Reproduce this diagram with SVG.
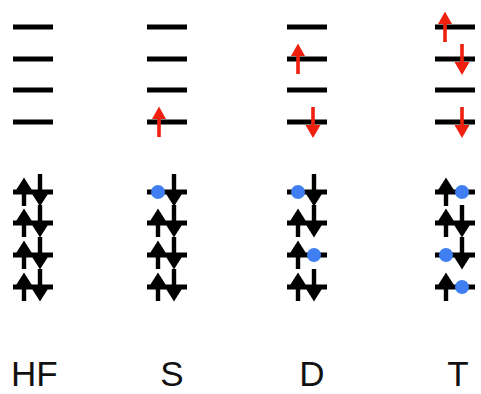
<svg xmlns="http://www.w3.org/2000/svg" xmlns:xlink="http://www.w3.org/1999/xlink" width="481" height="394" viewBox="0 0 481 394">
  <style>
    .level { stroke: #000; stroke-width: 5; }
    .hole { fill: #3f7ff2; }
    .label { font-family: "Liberation Sans", Arial, sans-serif; font-size: 35px; fill: #111; }
  </style>
  <defs>
    <!-- spin arrows, origin at the crossing with the level line -->
    <g id="up-black">
      <rect x="-2.2" y="-3" width="4.4" height="17" fill="#000"/>
      <polygon points="0,-14.5 8.5,-1 -8.5,-1" fill="#000"/>
    </g>
    <g id="down-black">
      <rect x="-2.2" y="-18" width="4.4" height="20" fill="#000"/>
      <polygon points="-8.5,1 8.5,1 0,14.5" fill="#000"/>
    </g>
    <g id="up-red">
      <rect x="-1.8" y="-5" width="3.6" height="20" fill="#f0200f"/>
      <polygon points="0,-15.5 7,-3 -7,-3" fill="#f0200f"/>
    </g>
    <g id="down-red">
      <rect x="-1.8" y="-15" width="3.6" height="20" fill="#f0200f"/>
      <polygon points="-7.5,3 7.5,3 0,16" fill="#f0200f"/>
    </g>
  </defs>
  <rect width="481" height="394" fill="#fff"/>

  <!-- Hartree-Fock reference -->
  <g id="col-hf">
    <line class="level" x1="13" y1="27" x2="53" y2="27"/>
    <line class="level" x1="13" y1="59" x2="53" y2="59"/>
    <line class="level" x1="13" y1="90" x2="53" y2="90"/>
    <line class="level" x1="13" y1="122" x2="53" y2="122"/>
    <line class="level" x1="13" y1="192" x2="53" y2="192"/>
    <line class="level" x1="13" y1="223" x2="53" y2="223"/>
    <line class="level" x1="13" y1="255" x2="53" y2="255"/>
    <line class="level" x1="13" y1="287" x2="53" y2="287"/>
    <use xlink:href="#up-black" x="24" y="192"/>
    <use xlink:href="#up-black" x="24" y="223"/>
    <use xlink:href="#up-black" x="24" y="255"/>
    <use xlink:href="#up-black" x="24" y="287"/>
    <use xlink:href="#down-black" x="40" y="192"/>
    <use xlink:href="#down-black" x="40" y="223"/>
    <use xlink:href="#down-black" x="40" y="255"/>
    <use xlink:href="#down-black" x="40" y="287"/>
    <text class="label" x="11" y="386">HF</text>
  </g>

  <!-- single excitation -->
  <g id="col-s">
    <line class="level" x1="147" y1="27" x2="187" y2="27"/>
    <line class="level" x1="147" y1="59" x2="187" y2="59"/>
    <line class="level" x1="147" y1="90" x2="187" y2="90"/>
    <line class="level" x1="147" y1="122" x2="187" y2="122"/>
    <line class="level" x1="147" y1="192" x2="187" y2="192"/>
    <line class="level" x1="147" y1="223" x2="187" y2="223"/>
    <line class="level" x1="147" y1="255" x2="187" y2="255"/>
    <line class="level" x1="147" y1="287" x2="187" y2="287"/>
    <use xlink:href="#up-red" x="159" y="122"/>
    <use xlink:href="#up-black" x="158" y="223"/>
    <use xlink:href="#up-black" x="158" y="255"/>
    <use xlink:href="#up-black" x="158" y="287"/>
    <use xlink:href="#down-black" x="174" y="192"/>
    <use xlink:href="#down-black" x="174" y="223"/>
    <use xlink:href="#down-black" x="174" y="255"/>
    <use xlink:href="#down-black" x="174" y="287"/>
    <circle class="hole" cx="158" cy="192" r="7"/>
    <text class="label" x="172" y="386" text-anchor="middle">S</text>
  </g>

  <!-- double excitation -->
  <g id="col-d">
    <line class="level" x1="287" y1="27" x2="327" y2="27"/>
    <line class="level" x1="287" y1="59" x2="327" y2="59"/>
    <line class="level" x1="287" y1="90" x2="327" y2="90"/>
    <line class="level" x1="287" y1="122" x2="327" y2="122"/>
    <line class="level" x1="287" y1="192" x2="327" y2="192"/>
    <line class="level" x1="287" y1="223" x2="327" y2="223"/>
    <line class="level" x1="287" y1="255" x2="327" y2="255"/>
    <line class="level" x1="287" y1="287" x2="327" y2="287"/>
    <use xlink:href="#up-red" x="298" y="59"/>
    <use xlink:href="#down-red" x="313" y="122"/>
    <use xlink:href="#up-black" x="298" y="223"/>
    <use xlink:href="#up-black" x="298" y="255"/>
    <use xlink:href="#up-black" x="298" y="287"/>
    <use xlink:href="#down-black" x="314" y="192"/>
    <use xlink:href="#down-black" x="314" y="223"/>
    <use xlink:href="#down-black" x="314" y="287"/>
    <circle class="hole" cx="298" cy="192" r="7"/>
    <circle class="hole" cx="314" cy="255" r="7"/>
    <text class="label" x="312" y="386" text-anchor="middle">D</text>
  </g>

  <!-- triple excitation -->
  <g id="col-t">
    <line class="level" x1="435" y1="27" x2="475" y2="27"/>
    <line class="level" x1="435" y1="59" x2="475" y2="59"/>
    <line class="level" x1="435" y1="90" x2="475" y2="90"/>
    <line class="level" x1="435" y1="122" x2="475" y2="122"/>
    <line class="level" x1="435" y1="192" x2="475" y2="192"/>
    <line class="level" x1="435" y1="223" x2="475" y2="223"/>
    <line class="level" x1="435" y1="255" x2="475" y2="255"/>
    <line class="level" x1="435" y1="287" x2="475" y2="287"/>
    <use xlink:href="#up-red" x="445" y="27"/>
    <use xlink:href="#down-red" x="462" y="59"/>
    <use xlink:href="#down-red" x="462" y="122"/>
    <use xlink:href="#up-black" x="446" y="192"/>
    <use xlink:href="#up-black" x="446" y="223"/>
    <use xlink:href="#up-black" x="446" y="287"/>
    <use xlink:href="#down-black" x="462" y="223"/>
    <use xlink:href="#down-black" x="462" y="255"/>
    <circle class="hole" cx="462" cy="192" r="7"/>
    <circle class="hole" cx="446" cy="255" r="7"/>
    <circle class="hole" cx="462" cy="287" r="7"/>
    <text class="label" x="458" y="386" text-anchor="middle">T</text>
  </g>
</svg>
